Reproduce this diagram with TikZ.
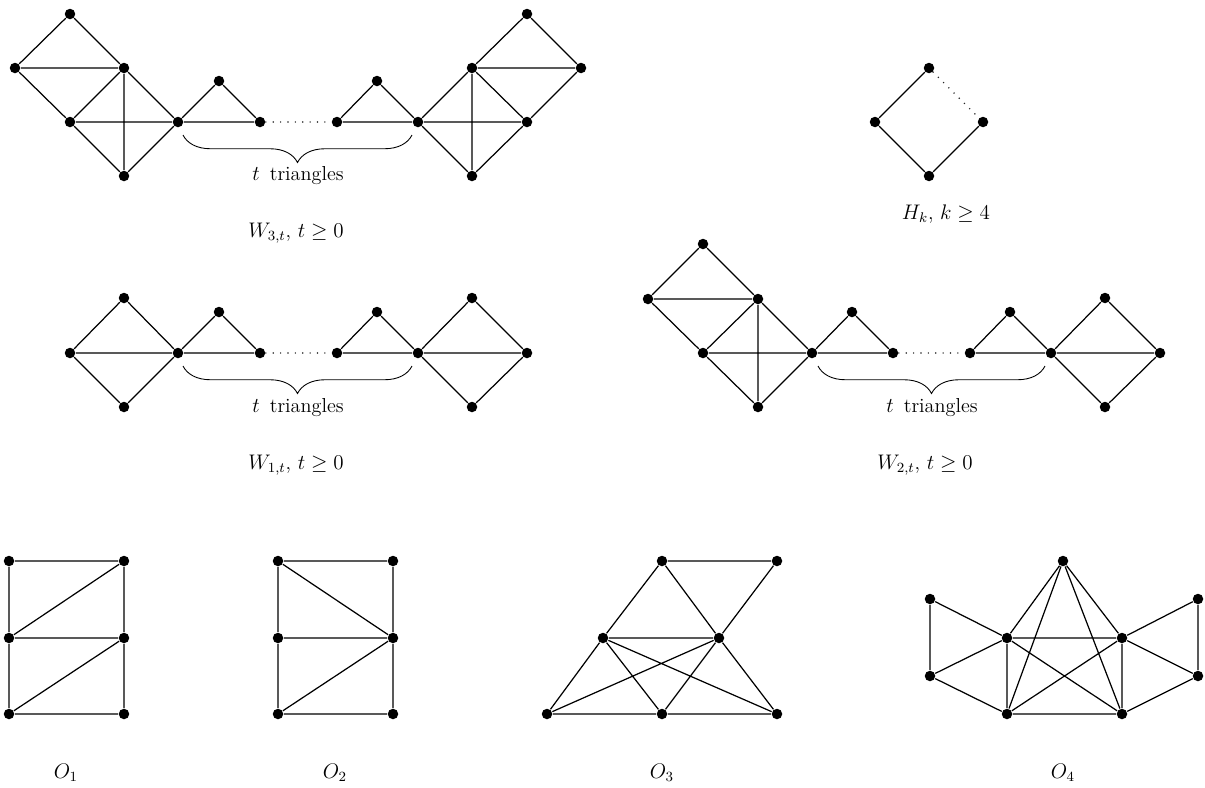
\documentclass[tikz,border=0pt]{standalone}
\usepackage{tikz}
\usepackage{amsmath}
\usetikzlibrary{decorations.pathreplacing}
\tikzset{
  vtx/.style={circle,fill=black,inner sep=0pt,minimum size=0.21cm},
  lbl/.style={font=\fontsize{11.5}{13}\selectfont},
  brc/.style={decorate,decoration={brace,mirror,amplitude=0.55cm,aspect=0.5},line width=0.5pt},
  gap/.style={line width=0.9pt,line cap=round,dash pattern=on 0pt off 4.2pt,black!85},
}

\begin{document}
\begin{tikzpicture}[x=0.02cm,y=-0.02cm,line width=0.7pt]
  \useasboundingbox (0,0) rectangle (1205,788);

  % W_{3,t}
  \node[vtx] (a1) at (70,14) {};
  \node[vtx] (a2) at (15,68) {};
  \node[vtx] (a3) at (124,68) {};
  \node[vtx] (a4) at (70,122) {};
  \node[vtx] (a5) at (178,122) {};
  \node[vtx] (a6) at (124,176) {};
  \node[vtx] (a7) at (219,81) {};
  \node[vtx] (a8) at (260,122) {};
  \node[vtx] (a9) at (337,122) {};
  \node[vtx] (a10) at (377,81) {};
  \node[vtx] (a11) at (418,122) {};
  \node[vtx] (a12) at (472,68) {};
  \node[vtx] (a13) at (527,14) {};
  \node[vtx] (a14) at (581,68) {};
  \node[vtx] (a15) at (527,122) {};
  \node[vtx] (a16) at (472,176) {};
  \draw (a1) -- (a2) (a1) -- (a3) (a2) -- (a3) (a2) -- (a4) (a3) -- (a4)
        (a3) -- (a5) (a3) -- (a6) (a4) -- (a5) (a4) -- (a6) (a5) -- (a6);
  \draw (a5) -- (a7) -- (a8) -- (a5) (a9) -- (a10) -- (a11) -- (a9);
  \draw[gap] (a8) -- (a9);
  \draw (a11) -- (a12) (a11) -- (a15) (a11) -- (a16) (a12) -- (a16) (a12) -- (a13)
        (a12) -- (a14) (a12) -- (a15) (a13) -- (a14) (a14) -- (a15) (a15) -- (a16);
  \coordinate (a-bl) at (183,135);
  \coordinate (a-br) at (412,135);
  \draw[brc] (a-bl) -- (a-br);
  \node[lbl] (a-t) at (298,176) {$t$\, triangles};
  \node[lbl] (a-n) at (296,233) {$W_{3,t}$, $t\geq 0$};

  % H_k
  \node[vtx] (h1) at (929,68) {};
  \node[vtx] (h2) at (875,122) {};
  \node[vtx] (h3) at (983,122) {};
  \node[vtx] (h4) at (929,176) {};
  \draw (h1) -- (h2) -- (h4) -- (h3);
  \draw[gap] (h1) -- (h3);
  \node[lbl] (h-n) at (946,214) {$H_k$, $k\geq 4$};

  % W_{1,t}
  \node[vtx] (b1) at (124,298) {};
  \node[vtx] (b2) at (70,353) {};
  \node[vtx] (b3) at (178,353) {};
  \node[vtx] (b4) at (124,407) {};
  \node[vtx] (b5) at (219,312) {};
  \node[vtx] (b6) at (260,353) {};
  \node[vtx] (b7) at (337,353) {};
  \node[vtx] (b8) at (377,312) {};
  \node[vtx] (b9) at (418,353) {};
  \node[vtx] (b10) at (472,298) {};
  \node[vtx] (b11) at (527,353) {};
  \node[vtx] (b12) at (472,407) {};
  \draw (b1) -- (b2) (b1) -- (b3) (b2) -- (b3) (b2) -- (b4) (b3) -- (b4);
  \draw (b3) -- (b5) -- (b6) -- (b3) (b7) -- (b8) -- (b9) -- (b7);
  \draw[gap] (b6) -- (b7);
  \draw (b9) -- (b10) (b9) -- (b11) (b9) -- (b12) (b10) -- (b11) (b12) -- (b11);
  \coordinate (b-bl) at (183,366);
  \coordinate (b-br) at (412,366);
  \draw[brc] (b-bl) -- (b-br);
  \node[lbl] (b-t) at (298,408) {$t$\, triangles};
  \node[lbl] (b-n) at (296,465) {$W_{1,t}$, $t\geq 0$};

  % W_{2,t}
  \node[vtx] (c1) at (703,244) {};
  \node[vtx] (c2) at (648,299) {};
  \node[vtx] (c3) at (758,299) {};
  \node[vtx] (c4) at (703,353) {};
  \node[vtx] (c5) at (812,353) {};
  \node[vtx] (c6) at (758,407) {};
  \node[vtx] (c7) at (852,312) {};
  \node[vtx] (c8) at (893,353) {};
  \node[vtx] (c9) at (970,353) {};
  \node[vtx] (c10) at (1010,312) {};
  \node[vtx] (c11) at (1051,353) {};
  \node[vtx] (c12) at (1105,298) {};
  \node[vtx] (c13) at (1160,353) {};
  \node[vtx] (c14) at (1105,407) {};
  \draw (c1) -- (c2) (c1) -- (c3) (c2) -- (c3) (c2) -- (c4) (c3) -- (c4)
        (c3) -- (c5) (c3) -- (c6) (c4) -- (c5) (c4) -- (c6) (c5) -- (c6);
  \draw (c5) -- (c7) -- (c8) -- (c5) (c9) -- (c10) -- (c11) -- (c9);
  \draw[gap] (c8) -- (c9);
  \draw (c11) -- (c12) (c11) -- (c13) (c11) -- (c14) (c12) -- (c13) (c14) -- (c13);
  \coordinate (c-bl) at (818,366);
  \coordinate (c-br) at (1045,366);
  \draw[brc] (c-bl) -- (c-br);
  \node[lbl] (c-t) at (932,408) {$t$\, triangles};
  \node[lbl] (c-n) at (925,465) {$W_{2,t}$, $t\geq 0$};

  % O_1
  \node[vtx] (d1) at (9,561) {};
  \node[vtx] (d2) at (124,561) {};
  \node[vtx] (d3) at (9,638) {};
  \node[vtx] (d4) at (124,638) {};
  \node[vtx] (d5) at (9,714) {};
  \node[vtx] (d6) at (124,714) {};
  \draw (d1) -- (d2) (d3) -- (d4) (d5) -- (d6) (d1) -- (d3) -- (d5) (d2) -- (d4) -- (d6)
        (d3) -- (d2) (d5) -- (d4);
  \node[lbl] (d-n) at (66,773) {$O_1$};

  % O_2
  \node[vtx] (e1) at (278,561) {};
  \node[vtx] (e2) at (393,561) {};
  \node[vtx] (e3) at (278,638) {};
  \node[vtx] (e4) at (393,638) {};
  \node[vtx] (e5) at (278,714) {};
  \node[vtx] (e6) at (393,714) {};
  \draw (e1) -- (e2) (e3) -- (e4) (e5) -- (e6) (e1) -- (e3) -- (e5) (e2) -- (e4) -- (e6)
        (e1) -- (e4) (e5) -- (e4);
  \node[lbl] (e-n) at (335,773) {$O_2$};

  % O_3
  \node[vtx] (f1) at (662,561) {};
  \node[vtx] (f2) at (777,561) {};
  \node[vtx] (f3) at (603,638) {};
  \node[vtx] (f4) at (719,638) {};
  \node[vtx] (f5) at (547,714) {};
  \node[vtx] (f6) at (662,714) {};
  \node[vtx] (f7) at (777,714) {};
  \draw (f1) -- (f2) (f1) -- (f3) (f1) -- (f4) (f2) -- (f4) (f3) -- (f4)
        (f3) -- (f5) (f3) -- (f6) (f3) -- (f7) (f4) -- (f5) (f4) -- (f6) (f4) -- (f7)
        (f5) -- (f6) -- (f7);
  \node[lbl] (f-n) at (662,773) {$O_3$};

  % O_4
  \node[vtx] (g1) at (1063,561) {};
  \node[vtx] (g2) at (930,599) {};
  \node[vtx] (g3) at (930,676) {};
  \node[vtx] (g4) at (1007,638) {};
  \node[vtx] (g5) at (1122,638) {};
  \node[vtx] (g6) at (1007,714) {};
  \node[vtx] (g7) at (1122,714) {};
  \node[vtx] (g8) at (1198,599) {};
  \node[vtx] (g9) at (1198,676) {};
  \draw (g2) -- (g3) (g2) -- (g4) (g3) -- (g4) (g3) -- (g6)
        (g4) -- (g5) (g4) -- (g6) (g4) -- (g7) (g5) -- (g6) (g5) -- (g7) (g6) -- (g7)
        (g1) -- (g4) (g1) -- (g5) (g1) -- (g6) (g1) -- (g7)
        (g5) -- (g8) (g5) -- (g9) (g8) -- (g9) (g9) -- (g7);
  \node[lbl] (g-n) at (1063,773) {$O_4$};
\end{tikzpicture}
\end{document}
